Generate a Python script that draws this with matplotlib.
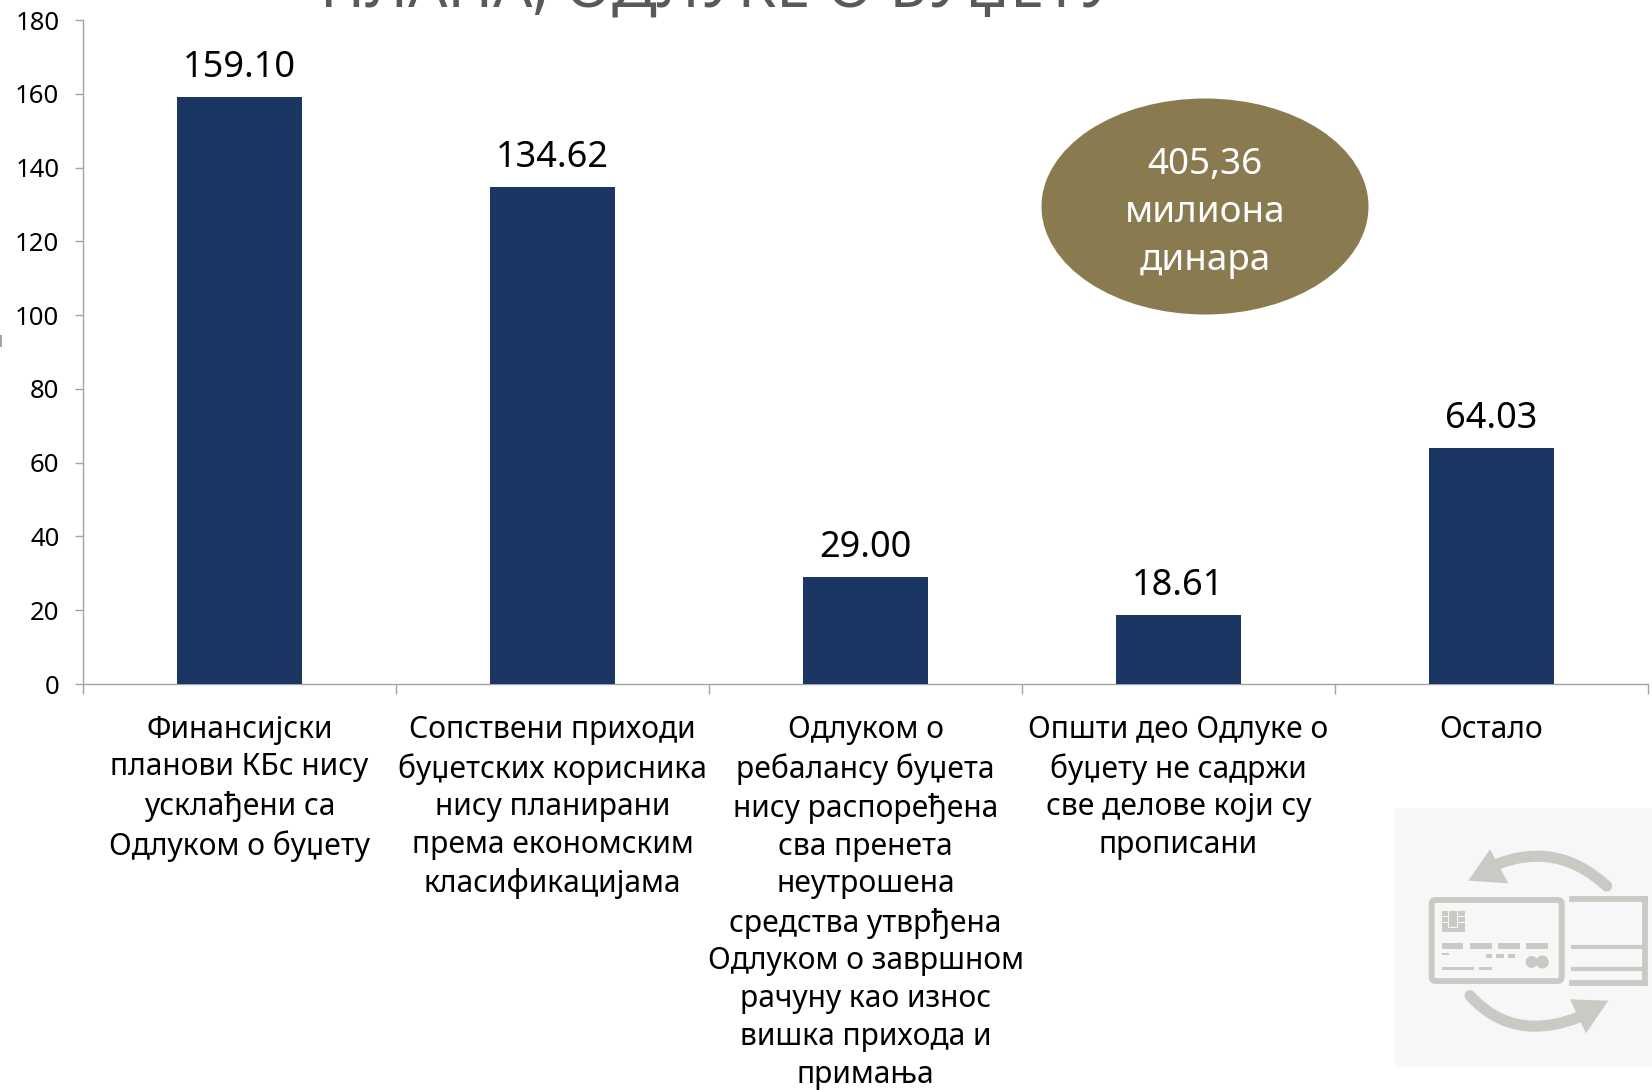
import numpy as np
import matplotlib
matplotlib.use("Agg")
import matplotlib.pyplot as plt
from matplotlib.patches import Ellipse, FancyBboxPatch, PathPatch, Polygon, Rectangle, Circle
from matplotlib.path import Path

plt.rcParams["font.family"] = ["Noto Sans", "DejaVu Sans"]

categories = [
    "Финансијски\nпланови КБс нису\nусклађени са\nОдлуком о буџету",
    "Сопствени приходи\nбуџетских корисника\nнису планирани\nпрема економским\nкласификацијама",
    "Одлуком о\nребалансу буџета\nнису распоређена\nсва пренета\nнеутрошена\nсредства утврђена\nОдлуком о завршном\nрачуну као износ\nвишка прихода и\nпримања",
    "Општи део Одлуке о\nбуџету не садржи\nсве делове који су\nпрописани",
    "Остало",
]
values = [159.10, 134.62, 29.00, 18.61, 64.03]
y_ticks = [0, 20, 40, 60, 80, 100, 120, 140, 160, 180]
title = "ПЛАНА, ОДЛУКЕ О БУЏЕТУ"
bubble_text = "405,36\nмилиона\nдинара"

W, H = 1652, 1090
BAR = "#1c3664"
GOLD = "#8a7a4f"
AXIS = "#a3a3a3"
ICON = "#cacac5"

fig = plt.figure(figsize=(W / 100, H / 100), dpi=100, facecolor="white")
ax = fig.add_axes([83 / W, 1 - 684 / H, (1648 - 83) / W, (684 - 20) / H])

x = np.arange(len(values))
ax.bar(x, values, width=0.4, color=BAR, zorder=3)
for xi, v in zip(x, values):
    ax.annotate(f"{v:.2f}", (xi, v), xytext=(0, 14.5), textcoords="offset points",
                ha="center", va="baseline", fontsize=26, color="black")

ax.set_xlim(-0.5, len(values) - 0.5)
ax.set_ylim(0, 180)
ax.set_yticks(y_ticks)
ax.tick_params(axis="y", labelsize=18.5, length=6, width=1, color=AXIS, pad=11)
ax.set_xticks(x)
ax.set_xticklabels(categories, fontsize=21.6, linespacing=1.34, va="top")
ax.tick_params(axis="x", which="major", length=0, pad=22)
ax.set_xticks(np.arange(len(values) + 1) - 0.5, minor=True)
ax.tick_params(axis="x", which="minor", length=7, width=1, color=AXIS)
for s in ["top", "right"]:
    ax.spines[s].set_visible(False)
for s in ["left", "bottom"]:
    ax.spines[s].set_color(AXIS)
    ax.spines[s].set_linewidth(1)

# overlay in pixel coordinates for the shapes on top of the chart
ov = fig.add_axes([0, 0, 1, 1], facecolor="none")
ov.set_xlim(0, W)
ov.set_ylim(H, 0)
ov.axis("off")

ov.text(718, 7, title, ha="center", va="baseline", fontsize=44.3, color="#595959")
ov.add_patch(Rectangle((0, 335), 2, 12, color=AXIS, lw=0))

ov.add_patch(Ellipse((1205, 206.5), 327, 216, color=GOLD, lw=0))
ov.text(1205, 213, bubble_text, ha="center", va="center", fontsize=26.5, color="white", linespacing=1.44)

# card icon in the lower right corner
ov.add_patch(Rectangle((1395, 808), 257, 259, color="#f7f7f7", lw=0))


def z(px, py):
    return (1380 + px / 3, 790 + py / 3)


ov.add_patch(FancyBboxPatch(z(155, 330), 130, 81, boxstyle="round,pad=0,rounding_size=4",
                            fc="none", ec=ICON, lw=4.2))
for seg, lw in [([(575, 328), (795, 328)], 4.2), ([(795, 328), (795, 578)], 4.2),
                ([(795, 578), (575, 578)], 4.2), ([(580, 470), (790, 470)], 3),
                ([(580, 537), (790, 537)], 3)]:
    (x0, y0), (x1, y1) = z(*seg[0]), z(*seg[1])
    ov.plot([x0, x1], [y0, y1], color=ICON, lw=lw)

for r in [(185, 458, 65, 20), (270, 458, 65, 20), (355, 458, 65, 20), (438, 458, 67, 20),
          (185, 488, 23, 8), (317, 493, 18, 12), (347, 493, 25, 12), (385, 493, 20, 12),
          (185, 532, 98, 9), (298, 532, 37, 9), (185, 362, 70, 63)]:
    ov.add_patch(Rectangle(z(r[0], r[1]), r[2] / 3, r[3] / 3, color=ICON, lw=0))
# chip contacts
for r in [(205, 362, 3, 50), (232, 362, 3, 50), (185, 378, 20, 3), (185, 395, 20, 3),
          (235, 378, 20, 3), (235, 395, 20, 3), (205, 410, 30, 3)]:
    ov.add_patch(Rectangle(z(r[0], r[1]), r[2] / 3, r[3] / 3, color="#f7f7f7", lw=0))
ov.add_patch(Circle(z(455, 516), 6, color=ICON, lw=0))
ov.add_patch(Circle(z(487, 516), 6.5, color=ICON, lw=0))

upper = Path([z(680, 288), z(530, 150), z(345, 225)], [Path.MOVETO, Path.CURVE3, Path.CURVE3])
lower = Path([z(270, 617), z(400, 760), z(600, 680)], [Path.MOVETO, Path.CURVE3, Path.CURVE3])
for p in [upper, lower]:
    ov.add_patch(PathPatch(p, fc="none", ec=ICON, lw=8, capstyle="round"))
ov.add_patch(Polygon([z(265, 272), z(330, 178), z(385, 280)], color=ICON, lw=0))
ov.add_patch(Polygon([z(570, 628), z(685, 632), z(618, 730)], color=ICON, lw=0))

fig.savefig("out.png", dpi=100)
